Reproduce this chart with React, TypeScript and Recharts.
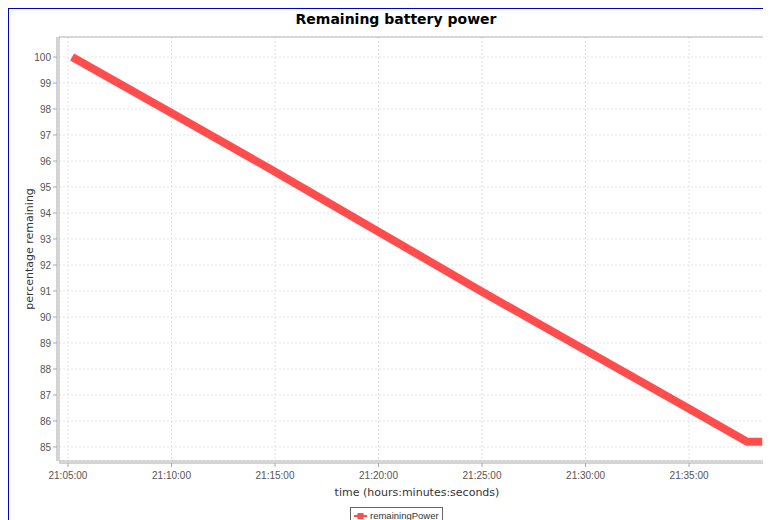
import React from 'react'
import {
  LineChart, Line, XAxis, YAxis, CartesianGrid, ReferenceArea,
} from 'recharts'

// readings (clock time, % remaining)
const times = ['21:05:12', '21:10:00', '21:15:00', '21:20:00', '21:25:00', '21:30:00', '21:35:00', '21:37:48', '21:38:32']
const remaining = [100, 97.85, 95.59, 93.28, 90.97, 88.72, 86.47, 85.2, 85.2]

const xTickLabels = ['21:05:00', '21:10:00', '21:15:00', '21:20:00', '21:25:00', '21:30:00', '21:35:00']
const yTicks = [85, 86, 87, 88, 89, 90, 91, 92, 93, 94, 95, 96, 97, 98, 99, 100]

const toSec = (t: string) => {
  const [h, m, s] = t.split(':').map(Number)
  return h * 3600 + m * 60 + s
}
const pad = (n: number) => String(n).padStart(2, '0')
const fmtTime = (v: number) =>
  `${pad(Math.floor(v / 3600))}:${pad(Math.floor((v % 3600) / 60))}:${pad(v % 60)}`

const data = times.map((t, i) => ({ t: toSec(t), remainingPower: remaining[i] }))

const X_MIN = toSec('21:04:34')
const X_MAX = toSec('21:39:09')
const Y_MIN = 84.46
const Y_MAX = 100.77

const RED = '#ff4d4d'
const BLUE = '#0000cc'
const tickFont = { fontFamily: '"Liberation Sans", Arial, sans-serif', fontSize: 10, fill: '#555' }
const labelFont = { fontFamily: '"DejaVu Sans", sans-serif', fontSize: 11, fill: '#333' }

export default function App() {
  return (
    <div style={{ position: 'relative', marginLeft: -1, width: 762, height: 511, overflow: 'hidden', borderLeft: `2px solid ${BLUE}`, borderTop: `1px solid ${BLUE}`, background: '#fff' }}>
      <div style={{ position: 'absolute', left: 0, width: 774, top: 2, textAlign: 'center', fontFamily: '"DejaVu Sans", sans-serif', fontWeight: 'bold', fontSize: 14, color: '#000' }}>
        Remaining battery power
      </div>

      <div style={{ position: 'absolute', left: -1, top: 0 }}>
        <LineChart
          width={776}
          height={525}
          data={data}
          margin={{ top: 28, right: 9, bottom: 28, left: 0 }}
        >
          <CartesianGrid stroke="#e2e2e2" strokeDasharray="2 2" />
          <ReferenceArea x1={X_MIN} x2={X_MAX} y1={Y_MIN} y2={Y_MAX} fill="none" stroke="#b4b4b4" ifOverflow="visible" />
          <XAxis
            type="number"
            dataKey="t"
            domain={[X_MIN, X_MAX]}
            ticks={xTickLabels.map(toSec)}
            tickFormatter={fmtTime}
            height={45}
            tickSize={4}
            tickMargin={7}
            tick={tickFont}
            axisLine={{ stroke: '#a8a8a8', transform: 'translate(0,2)' }}
            tickLine={{ stroke: '#a8a8a8', transform: 'translate(0,2)' }}
            label={{ value: 'time (hours:minutes:seconds)', position: 'insideBottom', offset: 10, style: labelFont }}
          />
          <YAxis
            type="number"
            domain={[Y_MIN, Y_MAX]}
            ticks={yTicks}
            width={51}
            tickSize={4}
            tickMargin={4}
            tick={tickFont}
            axisLine={{ stroke: '#a8a8a8', transform: 'translate(-2,0)' }}
            tickLine={{ stroke: '#a8a8a8', transform: 'translate(-2,0)' }}
            label={{ value: 'percentage remaining', angle: -90, position: 'insideLeft', offset: 21, style: { ...labelFont, textAnchor: 'middle' } }}
          />
          <Line
            type="linear"
            dataKey="remainingPower"
            stroke={RED}
            strokeWidth={8}
            dot={false}
            isAnimationActive={false}
          />
        </LineChart>
      </div>

      <div style={{ position: 'absolute', left: 341, top: 498, border: '1px solid #666', padding: '2px 3px', display: 'flex', alignItems: 'center', gap: 3, background: '#fff' }}>
        <svg width={13} height={8}>
          <line x1={0} y1={4} x2={13} y2={4} stroke={RED} strokeWidth={2} />
          <rect x={3.5} y={1} width={6} height={6} fill={RED} />
        </svg>
        <span style={{ fontFamily: '"Liberation Sans", Arial, sans-serif', fontSize: 9.5, color: '#333' }}>remainingPower</span>
      </div>
    </div>
  )
}
